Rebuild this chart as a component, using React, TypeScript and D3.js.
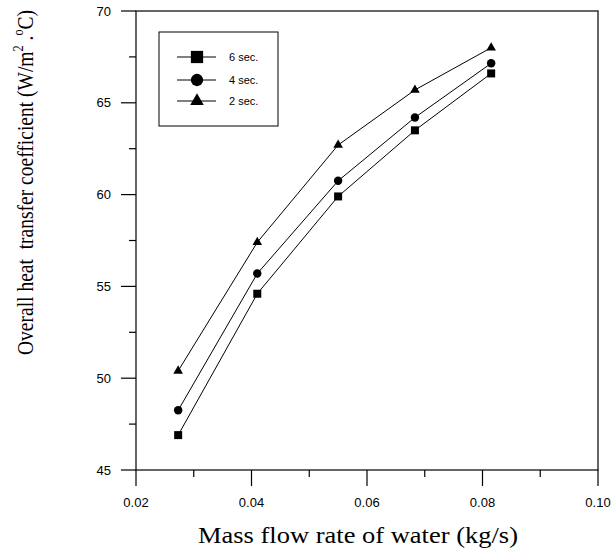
import React from "react";
import * as d3 from "d3";

const flowRates = [0.0273, 0.041, 0.055, 0.0683, 0.0815];
const series6 = [46.9, 54.6, 59.9, 63.5, 66.6];
const series4 = [48.25, 55.7, 60.75, 64.2, 67.15];
const series2 = [50.4, 57.4, 62.7, 65.7, 68.0];
const seriesNames = ["6 sec.", "4 sec.", "2 sec."];
const xTicks = [0.02, 0.04, 0.06, 0.08, 0.1];
const xMinor = [0.03, 0.05, 0.07, 0.09];
const yTicks = [45, 50, 55, 60, 65, 70];
const yMinor = [47.5, 52.5, 57.5, 62.5, 67.5];

const W = 611;
const H = 554;
const L = 136, R = 598, T = 11, B = 470;

export default function App() {
  const x = d3.scaleLinear().domain([0.02, 0.1]).range([L, R]);
  const y = d3.scaleLinear().domain([45, 70]).range([B, T]);
  const line = d3
    .line<[number, number]>()
    .x((d) => x(d[0]))
    .y((d) => y(d[1]));
  const all = [series6, series4, series2];
  const symType = [d3.symbolSquare, d3.symbolCircle, d3.symbolTriangle];
  const symSize = [64, 56, 40];
  const legSize = [150, 120, 80];
  const font = "Arial, 'Liberation Sans', sans-serif";
  const serif = "'Times New Roman', 'Liberation Serif', serif";
  return (
    <svg width={W} height={H} style={{ position: "absolute", left: 0, top: 0 }}>
      <rect width={W} height={H} fill="white" />
      <rect x={L} y={T} width={R - L} height={B - T} fill="none" stroke="black" strokeWidth={1.2} />
      {xTicks.map((t) => (
        <g key={"xt" + t}>
          <line x1={x(t)} x2={x(t)} y1={B} y2={B + 16} stroke="black" strokeWidth={1.2} />
          <text x={x(t)} y={507} textAnchor="middle" fontSize={13} fontFamily={font}>
            {t.toFixed(2)}
          </text>
        </g>
      ))}
      {xMinor.map((t) => (
        <line key={"xm" + t} x1={x(t)} x2={x(t)} y1={B} y2={B + 7} stroke="black" strokeWidth={1.2} />
      ))}
      {yTicks.map((t) => (
        <g key={"yt" + t}>
          <line x1={L - 15} x2={L} y1={y(t)} y2={y(t)} stroke="black" strokeWidth={1.2} />
          <text x={111} y={y(t) + 4.5} textAnchor="end" fontSize={13} fontFamily={font}>
            {t}
          </text>
        </g>
      ))}
      {yMinor.map((t) => (
        <line key={"ym" + t} x1={L - 7} x2={L} y1={y(t)} y2={y(t)} stroke="black" strokeWidth={1.2} />
      ))}
      {all.map((s, i) => {
        const pts: [number, number][] = flowRates.map((f, j) => [f, s[j]]);
        const sym = d3.symbol().type(symType[i]).size(symSize[i]);
        return (
          <g key={"s" + i}>
            <path d={line(pts) || ""} fill="none" stroke="black" strokeWidth={1} />
            {pts.map((p, j) => (
              <path key={j} d={sym() || ""} transform={`translate(${x(p[0])},${y(p[1])})`} fill="black" />
            ))}
          </g>
        );
      })}
      <rect x={159} y={32} width={119} height={94} fill="white" stroke="black" strokeWidth={1} />
      {seriesNames.map((n, i) => {
        const ly = [57, 80, 101][i];
        const sym = d3.symbol().type(symType[i]).size(legSize[i]);
        return (
          <g key={"l" + i}>
            <line x1={177} x2={216} y1={ly} y2={ly} stroke="black" strokeWidth={1} />
            <path d={sym() || ""} transform={`translate(197,${ly})`} fill="black" />
            <text x={229} y={ly + 4} fontSize={11} fontFamily={font}>
              {n}
            </text>
          </g>
        );
      })}
      <text
        x={198}
        y={543}
        fontSize={23}
        fontFamily={serif}
        textLength={320}
        lengthAdjust="spacingAndGlyphs"
      >
        Mass flow rate of water (kg/s)
      </text>
      <text
        transform="translate(33,355) rotate(-90)"
        fontSize={24}
        fontFamily={serif}
        textLength={345}
        lengthAdjust="spacingAndGlyphs"
        style={{ whiteSpace: "pre" }}
      >
        {"Overall heat  transfer coefficient (W/m"}
        <tspan fontSize={15} dy={-10}>2</tspan>
        <tspan dy={10}> .</tspan>
        <tspan fontSize={15} dy={-10}>o</tspan>
        <tspan dy={10}>C)</tspan>
      </text>
    </svg>
  );
}
